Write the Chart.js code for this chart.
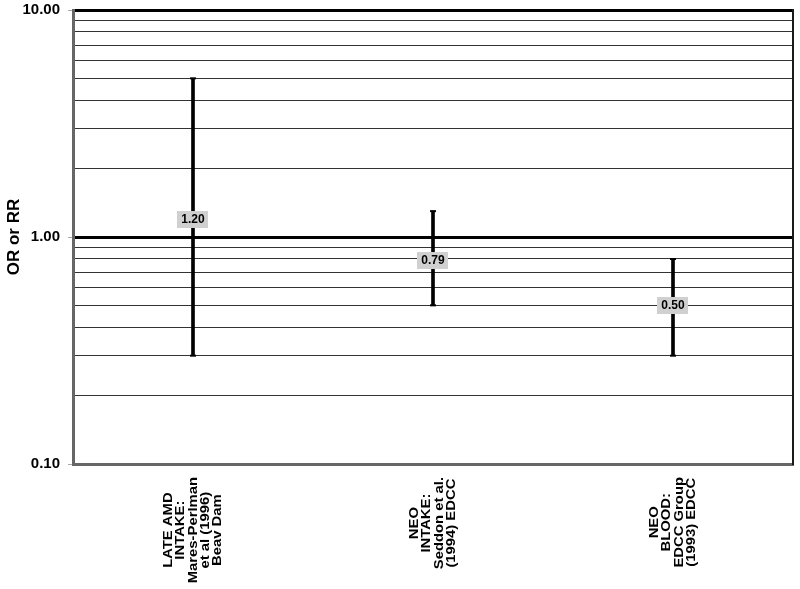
<!DOCTYPE html>
<html>
<head>
<meta charset="utf-8">
<script src="https://cdn.jsdelivr.net/npm/chart.js"></script>
<style>
  body { margin: 0; background: #fff; }
  #wrap { width: 800px; height: 589px; position: relative; }
</style>
</head>
<body>
<div id="wrap"><canvas id="chart"></canvas></div>
<script>
// Data
const categories = [
  ['LATE AMD', 'INTAKE:', 'Mares-Perlman', 'et al (1996)', 'Beav Dam'],
  ['NEO', 'INTAKE:', 'Seddon et al.', '(1994) EDCC'],
  ['NEO', 'BLOOD:', 'EDCC Group', '(1993) EDCC']
];
const estimates = [1.20, 0.79, 0.50];
const lowerCI = [0.30, 0.50, 0.30];
const upperCI = [5.0, 1.3, 0.8];
const yTicks = [0.1, 0.2, 0.3, 0.4, 0.5, 0.6, 0.7, 0.8, 0.9,
                1, 2, 3, 4, 5, 6, 7, 8, 9, 10];
const labelledTicks = [0.1, 1, 10];

const FONT = 'Liberation Sans, Arial, sans-serif';

function isLabelled(v) {
  return labelledTicks.some(t => Math.abs(t - v) < 1e-9);
}

// Caps, estimate boxes, right border and category labels
const extrasPlugin = {
  id: 'extras',
  afterDatasetsDraw(chart) {
    const ctx = chart.ctx;
    const x = chart.scales.x;
    const y = chart.scales.y;
    ctx.save();
    ctx.strokeStyle = '#000';
    ctx.lineWidth = 2;
    estimates.forEach((est, i) => {
      const px = x.getPixelForValue(i);
      [lowerCI[i], upperCI[i]].forEach(v => {
        const py = y.getPixelForValue(v);
        ctx.beginPath();
        ctx.moveTo(px - 3, py);
        ctx.lineTo(px + 3, py);
        ctx.stroke();
      });
      // estimate label
      const py = y.getPixelForValue(est);
      const text = est.toFixed(2);
      ctx.font = 'bold 12px ' + FONT;
      const w = ctx.measureText(text).width + 8;
      ctx.fillStyle = '#d0d0d0';
      ctx.fillRect(Math.round(px - w / 2), Math.round(py - 8.5), Math.round(w), 17);
      ctx.fillStyle = '#000';
      ctx.textAlign = 'center';
      ctx.textBaseline = 'middle';
      ctx.fillText(text, px, py + 0.5);
    });
    ctx.restore();
  },
  afterDraw(chart) {
    const ctx = chart.ctx;
    const area = chart.chartArea;
    const x = chart.scales.x;
    ctx.save();
    // right border
    ctx.strokeStyle = '#1a1a1a';
    ctx.lineWidth = 2;
    ctx.beginPath();
    ctx.moveTo(area.right, area.top - 1);
    ctx.lineTo(area.right, area.bottom + 1);
    ctx.stroke();
    // rotated, centred category labels (text stretched a little, like the original)
    ctx.font = 'bold 13px ' + FONT;
    ctx.fillStyle = '#000';
    ctx.textAlign = 'center';
    ctx.textBaseline = 'middle';
    const stretch = 1.14;
    const lh = 12.3;
    categories.forEach((lines, i) => {
      const px = x.getPixelForValue(i);
      const maxW = Math.max(...lines.map(l => ctx.measureText(l).width)) * stretch;
      ctx.save();
      ctx.translate(px, area.bottom + 13 + maxW / 2);
      ctx.rotate(-Math.PI / 2);
      ctx.scale(stretch, 1);
      lines.forEach((l, j) => {
        ctx.fillText(l, 0, (j - (lines.length - 1) / 2) * lh);
      });
      ctx.restore();
    });
    ctx.restore();
  }
};

new Chart(document.getElementById('chart'), {
  type: 'bar',
  data: {
    labels: categories.map(c => c.join(' ')),
    datasets: [{
      data: lowerCI.map((lo, i) => [lo, upperCI[i]]),
      backgroundColor: '#000',
      borderWidth: 0,
      barThickness: 3
    }]
  },
  options: {
    responsive: true,
    maintainAspectRatio: false,
    animation: false,
    layout: { padding: { top: 10, right: 7, left: 0, bottom: 0 } },
    plugins: {
      legend: { display: false },
      tooltip: { enabled: false }
    },
    scales: {
      x: {
        grid: { display: false },
        border: { display: true, color: '#666', width: 3 },
        ticks: { display: false },
        afterFit(scale) { scale.height = 125; }
      },
      y: {
        type: 'logarithmic',
        min: 0.1,
        max: 10,
        afterBuildTicks(scale) {
          scale.ticks = yTicks.map(v => ({ value: v }));
        },
        afterFit(scale) {
          scale.width = 73;
          scale.paddingTop = 0;
          scale.paddingBottom = 0;
        },
        ticks: {
          autoSkip: false,
          padding: 8,
          color: '#000',
          font: { family: FONT, size: 15, weight: 'bold' },
          callback: v => isLabelled(v) ? v.toFixed(2) : ''
        },
        grid: {
          drawTicks: true,
          tickLength: 5,
          color: c => {
            const v = c.tick.value;
            if (Math.abs(v - 0.1) < 1e-9) return 'rgba(0,0,0,0)';
            if (Math.abs(v - 1) < 1e-9 || Math.abs(v - 10) < 1e-9) return '#000';
            return '#333';
          },
          lineWidth: c => {
            const v = c.tick.value;
            return (Math.abs(v - 1) < 1e-9 || Math.abs(v - 10) < 1e-9) ? 3 : 1;
          },
          tickColor: c => isLabelled(c.tick.value) ? '#aaa' : 'rgba(0,0,0,0)',
          tickWidth: 1
        },
        border: { display: true, color: '#666', width: 3 },
        title: {
          display: true,
          text: 'OR or RR',
          color: '#000',
          padding: { top: 4, bottom: 0 },
          font: { family: FONT, size: 17, weight: 'bold' }
        }
      }
    }
  },
  plugins: [extrasPlugin]
});
</script>
</body>
</html>
